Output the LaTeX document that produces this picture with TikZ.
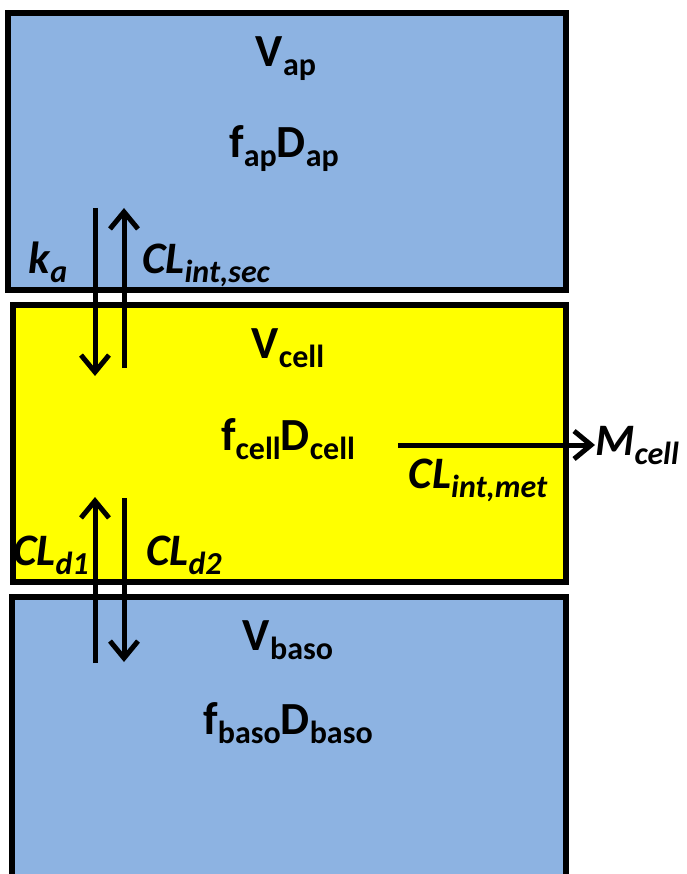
\documentclass[tikz,border=0pt]{standalone}
\usepackage{fontspec}
\setmainfont{Carlito}
\usetikzlibrary{arrows.meta}
\definecolor{compblue}{RGB}{141,179,226}
\definecolor{compyellow}{RGB}{255,255,0}
\newcommand\sbs[1]{\raisebox{-9pt}{\fontsize{32}{32}\selectfont #1}}
\tikzset{
  compbox/.style={draw=black, line width=5.5pt, rectangle, inner sep=0pt},
  lbl/.style={inner sep=0pt, font=\fontsize{46}{50}\selectfont\bfseries},
  ilbl/.style={inner sep=0pt, font=\fontsize{45}{50}\selectfont\bfseries\itshape},
  flow/.style={line width=5pt, -{Straight Barb[length=17pt,width=28pt]}}
}
\begin{document}
\begin{tikzpicture}[x=1pt,y=-1pt]
\clip (0,0) rectangle (686,874);
\fill[white] (0,0) rectangle (686,874);
% compartments
\node[compbox, fill=compblue, minimum width=558pt, minimum height=277pt] (ap) at (287,151.5) {};
\node[compbox, fill=compyellow, minimum width=553pt, minimum height=277pt] (cell) at (289.5,443.5) {};
\node[compbox, fill=compblue, minimum width=554pt, minimum height=281pt] (baso) at (289,737.5) {};
% compartment texts
\node[lbl, anchor=base] (vap) at (286,67) {V\sbs{ap}};
\node[lbl, anchor=base] (fap) at (284,158) {f\sbs{ap}D\sbs{ap}};
\node[lbl, anchor=base] (vcell) at (288,358) {V\sbs{cell}};
\node[lbl, anchor=base] (fcell) at (288,450) {f\sbs{cell}D\sbs{cell}};
\node[lbl, anchor=base] (vbaso) at (288,650) {V\sbs{baso}};
\node[lbl, anchor=base] (fbaso) at (288,734) {f\sbs{baso}D\sbs{baso}};
% flow endpoints
\coordinate (ka1) at (95,208);
\coordinate (ka2) at (95,376);
\coordinate (sec1) at (124,368);
\coordinate (sec2) at (124,208);
\coordinate (d11) at (95,663);
\coordinate (d12) at (95,497);
\coordinate (d21) at (124,498);
\coordinate (d22) at (124,662);
\coordinate (met1) at (398,445);
% flows
\draw[flow] (ka1) -- (ka2);
\draw[flow] (sec1) -- (sec2);
\draw[flow] (d11) -- (d12);
\draw[flow] (d21) -- (d22);
\node[ilbl, anchor=base west] (mcell) at (595,455) {M\sbs{cell}};
\draw[flow] (met1) -- (met1 -| mcell.west);
% flow labels
\node[ilbl, anchor=base] (ka) at (48,273) {k\sbs{a}};
\node[ilbl, anchor=base west] (clsec) at (142,273) {CL\sbs{int,sec}};
\node[ilbl, anchor=base] (clmet) at (478,488) {CL\sbs{int,met}};
\node[ilbl, anchor=base west] (cld1) at (13,565) {CL\sbs{d1}};
\node[ilbl, anchor=base west] (cld2) at (146,565) {CL\sbs{d2}};
\end{tikzpicture}
\end{document}
